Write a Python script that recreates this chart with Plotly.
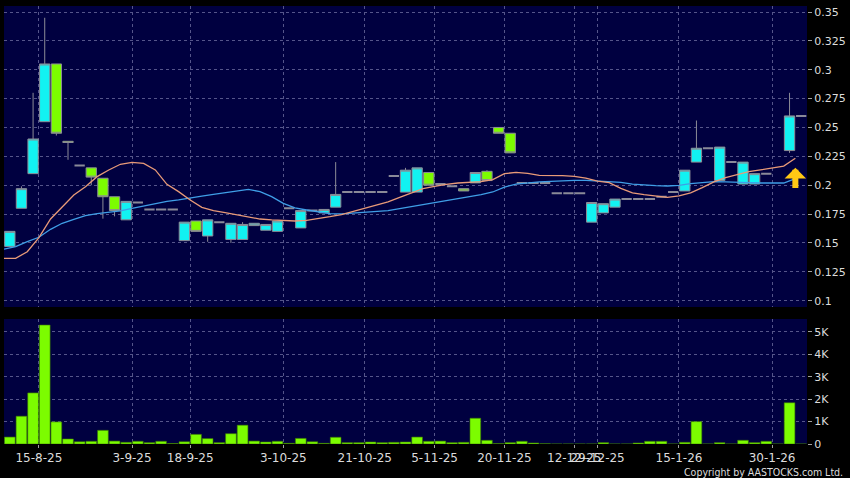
import plotly.graph_objects as go

# ---------------- data ----------------
# one entry per trading session (index 0 .. 68); None = no bar
open_ = [0.147, 0.180, 0.210, 0.255, 0.305, 0.238, 0.217, 0.215, 0.206, 0.190,
         0.170, 0.185, 0.179, 0.179, 0.179, 0.152, 0.169, 0.156, 0.168, 0.153,
         0.153, 0.165, 0.161, 0.160, 0.180, 0.163, 0.178, 0.176, 0.181, 0.194,
         0.194, 0.194, 0.194, 0.208, 0.194, 0.194, 0.211, 0.201, 0.199, 0.197,
         0.202, 0.212, 0.250, 0.245, 0.202, 0.202, 0.202, 0.193, 0.193, 0.193,
         0.168, 0.176, 0.181, 0.188, 0.188, 0.188, 0.190, 0.194, 0.195, 0.220,
         0.232, 0.204, 0.220, 0.201, 0.201, 0.210, None, 0.230, 0.260]
high = [0.160, 0.199, 0.280, 0.345, 0.305, 0.238, 0.217, 0.215, 0.206, 0.190,
        0.186, 0.185, 0.179, 0.179, 0.179, 0.168, 0.169, 0.170, 0.168, 0.167,
        0.168, 0.167, 0.166, 0.169, 0.180, 0.178, 0.178, 0.179, 0.220, 0.194,
        0.194, 0.194, 0.194, 0.208, 0.215, 0.215, 0.211, 0.201, 0.199, 0.197,
        0.211, 0.213, 0.250, 0.245, 0.202, 0.202, 0.202, 0.193, 0.193, 0.193,
        0.185, 0.184, 0.188, 0.188, 0.188, 0.188, 0.190, 0.194, 0.213, 0.256,
        0.232, 0.233, 0.220, 0.220, 0.210, 0.210, None, 0.280, 0.260]
low = [0.147, 0.180, 0.210, 0.255, 0.243, 0.222, 0.217, 0.200, 0.171, 0.173,
       0.170, 0.185, 0.179, 0.179, 0.179, 0.152, 0.160, 0.151, 0.168, 0.150,
       0.153, 0.165, 0.161, 0.160, 0.180, 0.163, 0.178, 0.176, 0.181, 0.194,
       0.194, 0.194, 0.194, 0.208, 0.194, 0.194, 0.200, 0.201, 0.199, 0.195,
       0.202, 0.204, 0.245, 0.228, 0.202, 0.202, 0.202, 0.193, 0.193, 0.193,
       0.168, 0.176, 0.181, 0.188, 0.188, 0.188, 0.190, 0.194, 0.195, 0.220,
       0.232, 0.204, 0.220, 0.201, 0.201, 0.210, None, 0.228, 0.260]
close = [0.160, 0.197, 0.240, 0.305, 0.245, 0.237, 0.217, 0.207, 0.190, 0.178,
         0.186, 0.185, 0.179, 0.179, 0.179, 0.168, 0.160, 0.170, 0.168, 0.167,
         0.166, 0.167, 0.166, 0.169, 0.180, 0.178, 0.178, 0.179, 0.192, 0.194,
         0.194, 0.194, 0.194, 0.208, 0.213, 0.215, 0.200, 0.201, 0.199, 0.195,
         0.211, 0.204, 0.245, 0.228, 0.202, 0.202, 0.202, 0.193, 0.193, 0.193,
         0.185, 0.184, 0.188, 0.188, 0.188, 0.188, 0.190, 0.194, 0.213, 0.232,
         0.232, 0.233, 0.220, 0.220, 0.210, 0.210, None, 0.260, 0.260]
volume = [310, 1240, 2280, 5310, 985, 224, 100, 120, 610, 130,
          75, 120, 60, 120, 20, 100, 430, 240, 60, 460,
          840, 130, 90, 120, 30, 250, 100, 30, 300, 60,
          60, 90, 60, 75, 90, 310, 120, 130, 60, 75,
          1150, 165, 15, 60, 120, 45, 10, 0, 0, 0,
          0, 60, 0, 0, 45, 120, 120, 0, 75, 1000,
          0, 60, 0, 165, 60, 120, 0, 1840, 0]
# moving averages, sampled at session boundaries (-0.5, 0.5, ... 67.5)
ma_short = [0.1367, 0.1367, 0.1424, 0.1546, 0.1707, 0.1814, 0.1915, 0.1987, 0.2074, 0.2132,
            0.2181, 0.2198, 0.2189, 0.2132, 0.2007, 0.1944, 0.1872, 0.1808, 0.1779, 0.1762,
            0.1742, 0.1725, 0.1707, 0.1699, 0.1693, 0.1690, 0.1696, 0.1710, 0.1727, 0.1745,
            0.1774, 0.1803, 0.1826, 0.1855, 0.1895, 0.1935, 0.1970, 0.1990, 0.2008, 0.2019,
            0.2025, 0.2031, 0.2048, 0.2100, 0.2111, 0.2103, 0.2085, 0.2085, 0.2083, 0.2077,
            0.2062, 0.2036, 0.2022, 0.1973, 0.1933, 0.1918, 0.1907, 0.1895, 0.1907, 0.1933,
            0.1979, 0.2028, 0.2065, 0.2088, 0.2117, 0.2132, 0.2152, 0.2166, 0.2233]
ma_long = [0.1447, 0.1468, 0.1511, 0.1549, 0.1618, 0.1670, 0.1704, 0.1736, 0.1753, 0.1765,
           0.1777, 0.1800, 0.1820, 0.1843, 0.1860, 0.1872, 0.1886, 0.1906, 0.1921, 0.1935,
           0.1953, 0.1964, 0.1944, 0.1901, 0.1843, 0.1803, 0.1785, 0.1768, 0.1753, 0.1751,
           0.1759, 0.1765, 0.1771, 0.1780, 0.1797, 0.1814, 0.1828, 0.1849, 0.1866, 0.1883,
           0.1898, 0.1918, 0.1941, 0.1984, 0.2010, 0.2022, 0.2028, 0.2033, 0.2039, 0.2042,
           0.2042, 0.2036, 0.2033, 0.2025, 0.2010, 0.2002, 0.1996, 0.1993, 0.1999, 0.2013,
           0.2025, 0.2031, 0.2028, 0.2022, 0.2022, 0.2019, 0.2019, 0.2019, 0.2057]
date_labels = ["15-8-25", "3-9-25", "18-9-25", "3-10-25", "21-10-25", "5-11-25",
               "20-11-25", "12-12-25", "29-12-25", "15-1-26", "30-1-26"]
date_sessions = [2, 10, 15, 23, 30, 36, 42, 48, 50, 57, 65]
price_ticks = [0.1, 0.125, 0.15, 0.175, 0.2, 0.225, 0.25, 0.275, 0.3, 0.325, 0.35]
price_tick_text = ["0.1", "0.125", "0.15", "0.175", "0.2", "0.225", "0.25", "0.275", "0.3", "0.325", "0.35"]
vol_ticks = [0, 1000, 2000, 3000, 4000, 5000]
vol_tick_text = ["0", "1K", "2K", "3K", "4K", "5K"]

# ---------------- styling ----------------
W, H = 850, 478
BG = "#000000"
PANEL = "#000040"
GRID = "#55558a"
CYAN = "#12f2f2"
GREEN = "#7cfc00"
OUTLINE = "#8c8c96"
FLAT = "#8a8a98"
TXT = "#dcdcdc"

n = len(close)
idx = list(range(n))
grid_x = [s + 0.5 for s in date_sessions]
ma_x = [i - 0.5 for i in range(n)]


def subset(cond):
    sel = [i for i in idx if close[i] is not None and cond(open_[i], close[i])]
    return (sel, [open_[i] for i in sel], [high[i] for i in sel],
            [low[i] for i in sel], [close[i] for i in sel])


fig = go.Figure()


def add_candles(cond, fill, lw, lc):
    xs, o, h, l, c = subset(cond)
    fig.add_trace(go.Candlestick(
        x=xs, open=o, high=h, low=l, close=c,
        increasing=dict(fillcolor=fill, line=dict(color=lc, width=lw)),
        decreasing=dict(fillcolor=fill, line=dict(color=lc, width=lw)),
        whiskerwidth=0, showlegend=False, hoverinfo="skip",
        xaxis="x", yaxis="y"))


add_candles(lambda o, c: c == o, FLAT, 2, FLAT)
add_candles(lambda o, c: c > o, CYAN, 1, OUTLINE)
add_candles(lambda o, c: c < o, GREEN, 1, OUTLINE)

fig.add_trace(go.Scatter(x=ma_x, y=ma_long, mode="lines",
                         line=dict(color="#3f9ee6", width=1.3),
                         showlegend=False, hoverinfo="skip", xaxis="x", yaxis="y"))
fig.add_trace(go.Scatter(x=ma_x, y=ma_short, mode="lines",
                         line=dict(color="#e89a78", width=1.3),
                         showlegend=False, hoverinfo="skip", xaxis="x", yaxis="y"))

fig.add_trace(go.Bar(x=idx, y=volume, marker=dict(color=GREEN, line=dict(color="#3c7a00", width=0.6)),
                     showlegend=False, hoverinfo="skip", xaxis="x2", yaxis="y2"))

# signal arrow at the end of the long moving average
ax_x = ma_x[-1]
ax_y = ma_long[-1]
fig.add_annotation(x=ax_x, y=ax_y + 0.0095, ax=ax_x, ay=ax_y - 0.0095,
                   xref="x", yref="y", axref="x", ayref="y",
                   text="", showarrow=True, arrowhead=1, arrowsize=0.6,
                   arrowwidth=6, arrowcolor="#ffc814")

fig.add_annotation(text="Copyright by AASTOCKS.com Ltd.", xref="paper", yref="paper",
                   x=845 / W, y=1 - 471.5 / H, xanchor="right", yanchor="middle",
                   showarrow=False,
                   font=dict(family="DejaVu Sans Condensed, DejaVu Sans", size=10.5, color=TXT))

xdom = [4 / W, 807 / W]
xr = [-0.5, n - 0.5]
common_x = dict(range=xr, domain=xdom, tickmode="array", tickvals=grid_x,
                showgrid=True, gridcolor=GRID, griddash="3px,3px", gridwidth=1,
                zeroline=False, showline=False, fixedrange=True, automargin=False)

fig.update_layout(
    width=W, height=H,
    margin=dict(l=0, r=0, t=0, b=0, autoexpand=False),
    paper_bgcolor=BG, plot_bgcolor=PANEL,
    boxgap=0.115, boxgroupgap=0, bargap=0.08,
    font=dict(family="DejaVu Sans", color=TXT),
    xaxis=dict(**common_x, anchor="y", showticklabels=False, ticks="",
               rangeslider=dict(visible=False)),
    xaxis2=dict(**common_x, anchor="y2", ticktext=date_labels, showticklabels=True,
                tickangle=0, ticks="outside", ticklen=3, tickcolor="#a0a0a0",
                tickfont=dict(family="DejaVu Sans", size=12, color=TXT)),
    yaxis=dict(domain=[1 - 307 / H, 1 - 6 / H], range=[0.0945, 0.3552], side="right",
               anchor="x", tickmode="array", tickvals=price_ticks, ticktext=price_tick_text,
               showgrid=True, gridcolor=GRID, griddash="3px,3px", gridwidth=1,
               ticks="outside", ticklen=4, tickcolor="#a0a0a0", zeroline=False,
               tickfont=dict(family="DejaVu Sans", size=11, color=TXT), fixedrange=True,
               automargin=False),
    yaxis2=dict(domain=[1 - 444 / H, 1 - 319 / H], range=[0, 5580], side="right",
                anchor="x2", tickmode="array", tickvals=vol_ticks, ticktext=vol_tick_text,
                showgrid=True, gridcolor=GRID, griddash="3px,3px", gridwidth=1,
                ticks="outside", ticklen=4, tickcolor="#a0a0a0", zeroline=False,
                tickfont=dict(family="DejaVu Sans", size=11, color=TXT), fixedrange=True,
                automargin=False),
)

fig.write_html("out.html", config={"displayModeBar": False},
               post_script="document.body.style.margin='0px';document.body.style.background='#000';")
